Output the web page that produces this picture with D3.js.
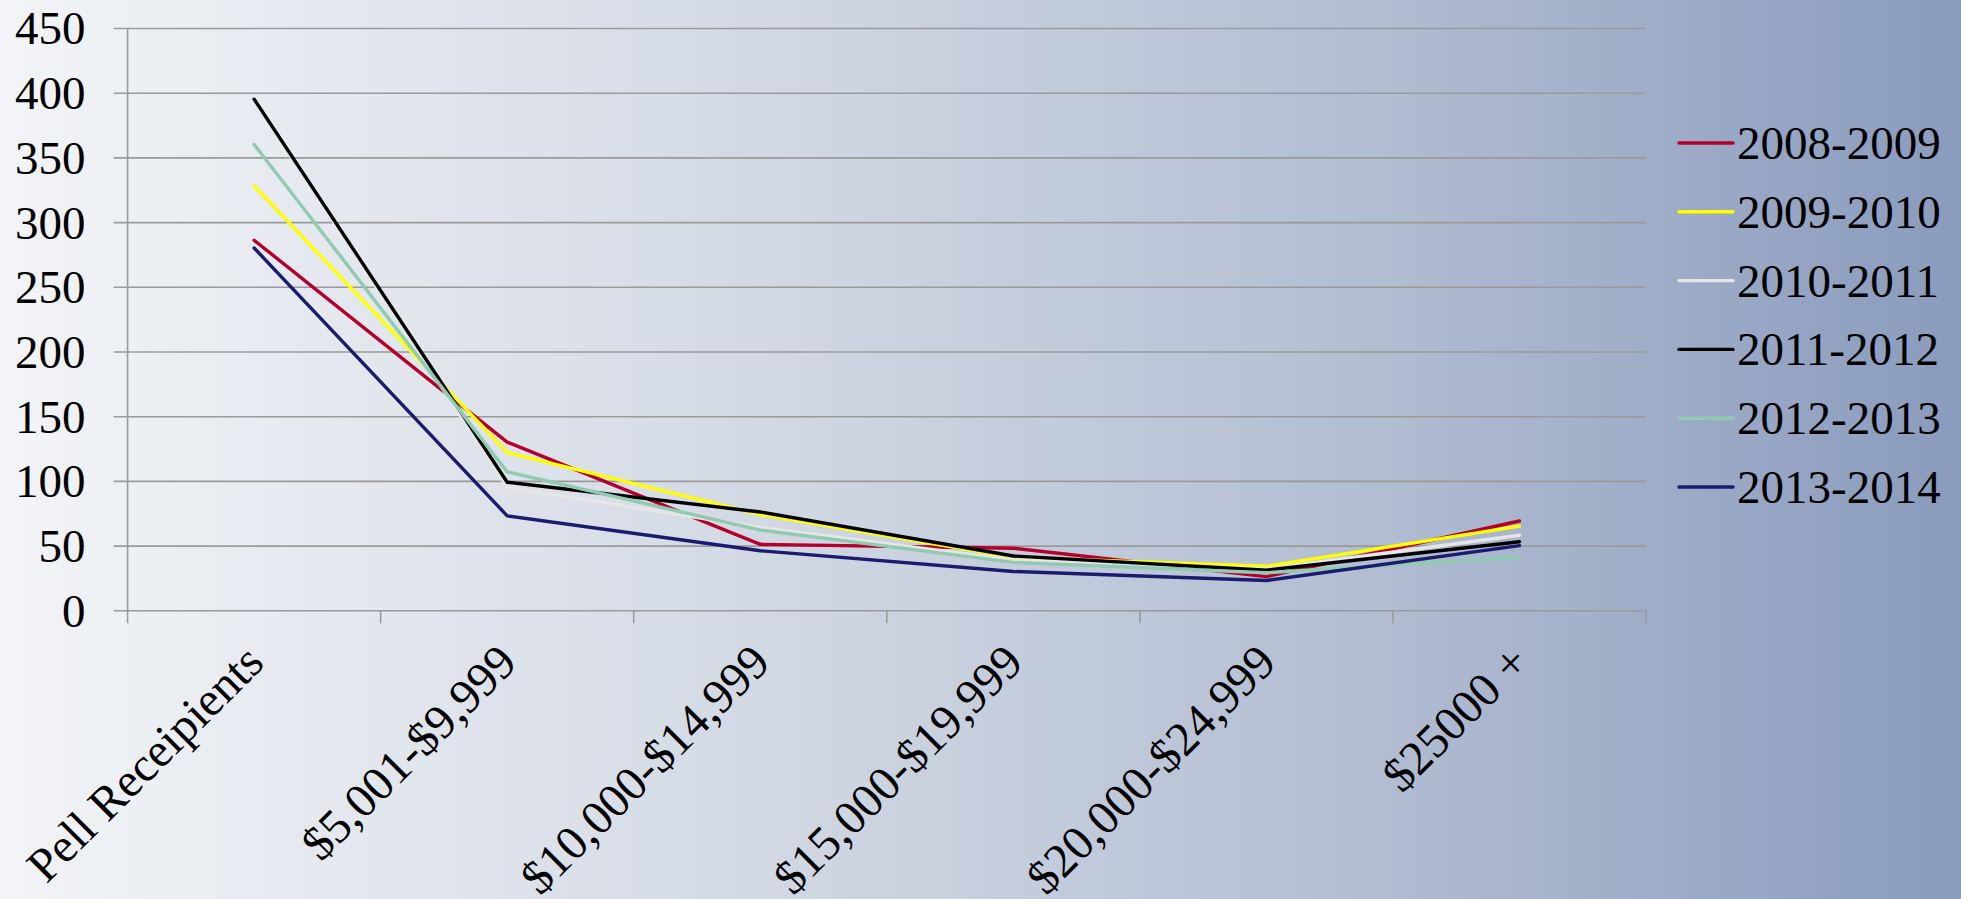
<!DOCTYPE html>
<html>
<head>
<meta charset="utf-8">
<script src="https://cdn.jsdelivr.net/npm/d3@7"></script>
<style>
  html, body { margin: 0; padding: 0; }
  body { width: 1961px; height: 899px; overflow: hidden; }
  svg { display: block; }
  text { font-family: "Liberation Serif", "Times New Roman", serif; fill: #000; }
</style>
</head>
<body>
<svg id="chart" width="1961" height="899"></svg>
<script>
const categories = ["Pell Receipients", "$5,001-$9,999", "$10,000-$14,999", "$15,000-$19,999", "$20,000-$24,999", "$25000 +"];
const seriesNames = ["2008-2009", "2009-2010", "2010-2011", "2011-2012", "2012-2013", "2013-2014"];
const seriesColors = ["#b5002c", "#ffff00", "#e6e6e6", "#000000", "#8fcab1", "#1b1b6f"];
const v2008 = [286, 130, 51, 48, 26, 69];
const v2009 = [328, 122, 74, 41, 34, 65];
const v2010 = [394, 95, 64, 39, 32, 58];
const v2011 = [395, 99, 76, 42, 31, 53];
const v2012 = [360, 107, 62, 37, 29, 41];
const v2013 = [280, 73, 46, 30, 23, 50];
const seriesValues = [v2008, v2009, v2010, v2011, v2012, v2013];
const yTicks = [0, 50, 100, 150, 200, 250, 300, 350, 400, 450];

(function () {
const W = 1961, H = 899;
const svg = d3.select("#chart");

// background gradient
const defs = svg.append("defs");
const bg = defs.append("linearGradient").attr("id", "bg").attr("x1", "0").attr("x2", "1").attr("y1", "0").attr("y2", "0");
bg.append("stop").attr("offset", "0").attr("stop-color", "#f2f4f7");
bg.append("stop").attr("offset", "0.35").attr("stop-color", "#d6dce6");
bg.append("stop").attr("offset", "0.7").attr("stop-color", "#b2bdd2");
bg.append("stop").attr("offset", "1").attr("stop-color", "#8a9bbd");
svg.append("rect").attr("width", W).attr("height", H).attr("fill", "url(#bg)");

const pL = 127.6, pR = 1646, pT = 28, pB = 610.3;
const x = d3.scaleBand().domain(categories).range([pL, pR]).padding(0);
const y = d3.scaleLinear().domain([0, 450]).range([pB, pT]);

// gridlines + y axis labels
const yAxis = d3.axisLeft(y).tickValues(yTicks).tickSize(pR - pL + 14).tickSizeOuter(0).tickFormat(d3.format("d"));
const gy = svg.append("g").attr("transform", `translate(${pR},0)`).call(yAxis);
gy.select(".domain").remove();
gy.selectAll(".tick line").attr("stroke", "#9a9a9a").attr("stroke-width", 1.6);
gy.selectAll(".tick text").attr("x", -(pR - pL) - 42).attr("dy", "0.34em")
  .style("font-size", "47px").style("font-family", "Liberation Serif").attr("fill", "#000");

// y axis vertical line
svg.append("line").attr("x1", pL).attr("x2", pL).attr("y1", pT).attr("y2", pB + 13)
  .attr("stroke", "#9a9a9a").attr("stroke-width", 1.6);

// x ticks at band boundaries
const bounds = categories.map(c => x(c)).concat([x(categories[categories.length - 1]) + x.bandwidth()]);
svg.append("g").selectAll("line").data(bounds.slice(1)).join("line")
  .attr("x1", d => d).attr("x2", d => d).attr("y1", pB).attr("y2", pB + 13)
  .attr("stroke", "#9a9a9a").attr("stroke-width", 1.6);

// x labels
svg.append("g").selectAll("text").data(categories).join("text")
  .attr("transform", d => `translate(${x(d) + x.bandwidth() / 2},${653}) rotate(-45)`)
  .attr("text-anchor", "end").attr("dy", "0.35em")
  .style("font-size", "48px")
  .text(d => d);

// lines
const line = d3.line().x((d, i) => x(categories[i]) + x.bandwidth() / 2).y(d => y(d));
svg.append("g").selectAll("path").data(seriesValues).join("path")
  .attr("d", d => line(d)).attr("fill", "none")
  .attr("stroke", (d, i) => seriesColors[i]).attr("stroke-width", 3.4)
  .attr("stroke-linejoin", "round").attr("stroke-linecap", "round");

// legend
const lg = svg.append("g").selectAll("g").data(seriesNames).join("g")
  .attr("transform", (d, i) => `translate(1679,${143 + i * 68.8})`);
lg.append("line").attr("x1", 0).attr("x2", 54).attr("y1", 0).attr("y2", 0)
  .attr("stroke", (d, i) => seriesColors[i]).attr("stroke-width", 3.4).attr("stroke-linecap", "round");
lg.append("text").attr("x", 58).attr("dy", "0.34em").style("font-size", "47px").text(d => d);
})();
</script>
</body>
</html>
